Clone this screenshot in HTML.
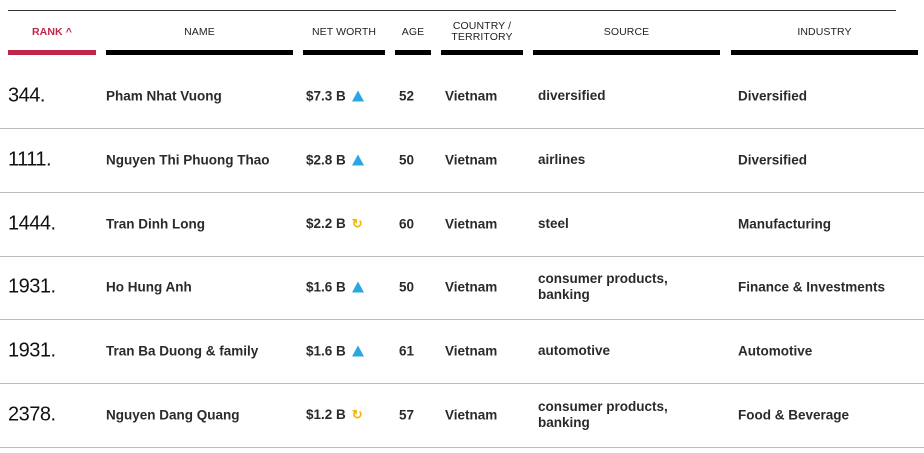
<!DOCTYPE html>
<html><head><meta charset="utf-8"><style>
body{margin:0;width:924px;height:453px;background:#fff;font-family:"Liberation Sans",sans-serif;color:#1a1a1a;position:relative;overflow:hidden}
.a{position:absolute}
.top{left:8px;top:10px;width:888px;height:1px;background:#333}
.hd{font-size:10.5px;color:#222;text-align:center;letter-spacing:0.1px;line-height:11px}
.bar{height:5px;top:50px;background:#000}
.sep{left:0;width:924px;height:1px;background:#bbb}
.c{font-size:13.5px;font-weight:bold;color:#2a2a2a;transform:translateY(-50%)}
.rk{font-size:20px;font-weight:normal;letter-spacing:-0.5px;color:#111}
.tri{display:inline-block;width:0;height:0;border-left:6px solid transparent;border-right:6px solid transparent;border-bottom:11px solid #29a8e0;margin-left:6px;vertical-align:-1px}
.rf{display:inline-block;margin-left:6px;color:#f2b705;font-size:13px}
</style></head><body>
<div class="a top"></div>
<div class="a hd" style="left:8px;width:88px;top:27px;color:#c0264a;font-weight:bold">RANK ^</div>
<div class="a hd" style="left:106px;width:187px;top:27px">NAME</div>
<div class="a hd" style="left:303px;width:82px;top:27px">NET WORTH</div>
<div class="a hd" style="left:395px;width:36px;top:27px">AGE</div>
<div class="a hd" style="left:441px;width:82px;top:21px">COUNTRY /<br>TERRITORY</div>
<div class="a hd" style="left:533px;width:187px;top:27px">SOURCE</div>
<div class="a hd" style="left:731px;width:187px;top:27px">INDUSTRY</div>
<div class="a bar" style="left:8px;width:88px;background:#c0264a"></div>
<div class="a bar" style="left:106px;width:187px"></div>
<div class="a bar" style="left:303px;width:82px"></div>
<div class="a bar" style="left:395px;width:36px"></div>
<div class="a bar" style="left:441px;width:82px"></div>
<div class="a bar" style="left:533px;width:187px"></div>
<div class="a bar" style="left:731px;width:187px"></div>
<div id="rows"></div>
<script>
const ranks=["344.","1111.","1444.","1931.","1931.","2378."];
const names=["Pham Nhat Vuong","Nguyen Thi Phuong Thao","Tran Dinh Long","Ho Hung Anh","Tran Ba Duong & family","Nguyen Dang Quang"];
const worths=["$7.3 B","$2.8 B","$2.2 B","$1.6 B","$1.6 B","$1.2 B"];
const trends=["up","up","same","up","up","same"];
const ages=["52","50","60","50","61","57"];
const countries=["Vietnam","Vietnam","Vietnam","Vietnam","Vietnam","Vietnam"];
const sources=["diversified","airlines","steel","consumer products,<br>banking","automotive","consumer products,<br>banking"];
const industries=["Diversified","Diversified","Manufacturing","Finance & Investments","Automotive","Food & Beverage"];
const root=document.getElementById('rows');
function cell(x,y,html,cls,name){
 const d=document.createElement('div');
 d.className='a c '+(cls||'');
 d.style.left=x+'px';d.style.top=y+'px';
 d.innerHTML=html;
 
 
 root.appendChild(d);
}
for(let i=0;i<ranks.length;i++){
 const y=96+i*63.8;
 cell(8,y,ranks[i],'rk','rank-cell');
 cell(106,y,names[i],'','name-cell');
 cell(306,y,worths[i]+(trends[i]=='up'?'<span class="tri"></span>':'<span class="rf">&#x21BB;</span>'),'','net-worth-cell');
 cell(399,y,ages[i],'','age-cell');
 cell(445,y,countries[i],'','country-cell');
 const s=document.createElement('div');
 s.className='a c';s.style.left='538px';s.style.top=y+'px';s.style.lineHeight='16px';
 s.innerHTML=sources[i];
 
 
 root.appendChild(s);
 cell(738,y,industries[i],'','industry-cell');
 const l=document.createElement('div');
 l.className='a sep';l.style.top=(128+i*63.8)+'px';
 
 
 root.appendChild(l);
}
</script>
</body></html>
